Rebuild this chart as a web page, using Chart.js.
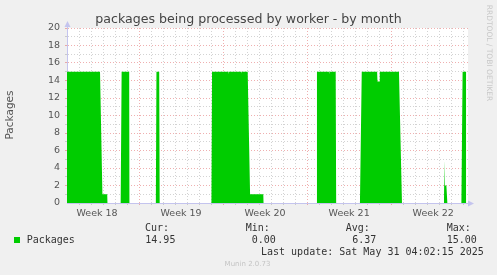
<!DOCTYPE html>
<html>
<head>
<meta charset="utf-8">
<script src="https://cdn.jsdelivr.net/npm/chart.js@4/dist/chart.umd.min.js"></script>
<style>
  html, body { margin: 0; padding: 0; background: #f0f0f0; }
  canvas { display: block; }
</style>
</head>
<body>
<canvas id="worker_chart" width="497" height="275"></canvas>
<script>
// x = days since the left edge of the graph (Tuesday of week 18), y = packages
const dayOffsets = [
  0, 2.75, 2.95, 3.35, 3.37,
  4.47, 4.55, 5.18, 5.2,
  7.4, 7.45, 7.68, 7.72,
  12.03, 12.08, 13.4, 13.42, 13.44, 14.54, 14.56, 14.58, 15.05, 15.25, 16.35, 16.37,
  20.78, 20.82, 21.81, 21.83, 21.85, 22.38, 22.42,
  24.4, 24.55, 25.83, 25.86, 26.0, 26.05, 27.65, 27.9,
  31.4, 31.43, 31.47, 31.6, 31.68,
  32.85, 32.95, 33.25
];
const packages = [
  15, 15, 1, 1, 0,
  0, 15, 15, 0,
  0, 15, 15, 0,
  0, 15, 15, 14.8, 15, 15, 14.8, 15, 15, 1, 1, 0,
  0, 15, 15, 14.8, 15, 15, 0,
  0, 15, 15, 13.9, 13.9, 15, 15, 0,
  0, 4.9, 2, 2, 0,
  0, 15, 15
];

const weekLabels = ['Week 18', 'Week 19', 'Week 20', 'Week 21', 'Week 22'];
const weekCenters = [2.5, 9.5, 16.5, 23.5, 30.5];
const weekStarts = [6, 13, 20, 27];
const rangeDays = 33.4;

const chartTitle = 'packages being processed by worker - by month';
const seriesName = 'Packages';
const statNames = ['Cur:', 'Min:', 'Avg:', 'Max:'];
const statValues = ['14.95', '0.00', '6.37', '15.00'];
const lastUpdate = 'Last update: Sat May 31 04:02:15 2025';

const GREEN = '#00cc00';
const AXIS = '#c4c4ee';
const MAJOR = 'rgba(225, 110, 110, 0.55)';
const MINOR = 'rgba(150, 150, 150, 0.42)';

const points = dayOffsets.map((d, i) => ({ x: d, y: packages[i] }));

const halfDays = [];
for (let i = 0; i <= Math.floor(rangeDays * 2); i++) halfDays.push(i / 2);

const muninDecor = {
  id: 'muninDecor',
  beforeDraw(chart) {
    const { ctx, chartArea: a } = chart;
    ctx.save();
    ctx.fillStyle = '#f0f0f0';
    ctx.fillRect(0, 0, chart.width, chart.height);
    ctx.fillStyle = '#ffffff';
    ctx.fillRect(a.left, a.top, a.right - a.left, a.bottom - a.top);
    ctx.restore();
  },
  afterDraw(chart) {
    const { ctx, chartArea: a } = chart;
    ctx.save();

    // axis arrows
    ctx.strokeStyle = AXIS;
    ctx.fillStyle = AXIS;
    ctx.lineWidth = 1;
    ctx.beginPath();
    ctx.moveTo(a.left + 0.5, a.top);
    ctx.lineTo(a.left + 0.5, a.top - 5);
    ctx.moveTo(a.right, a.bottom + 0.5);
    ctx.lineTo(a.right + 3, a.bottom + 0.5);
    ctx.stroke();
    ctx.beginPath();
    ctx.moveTo(a.left + 0.5, a.top - 7);
    ctx.lineTo(a.left - 2.5, a.top - 1);
    ctx.lineTo(a.left + 3.5, a.top - 1);
    ctx.closePath();
    ctx.fill();
    ctx.beginPath();
    ctx.moveTo(a.right + 6, a.bottom + 0.5);
    ctx.lineTo(a.right, a.bottom - 2.5);
    ctx.lineTo(a.right, a.bottom + 3.5);
    ctx.closePath();
    ctx.fill();

    // title
    ctx.fillStyle = '#444';
    ctx.textBaseline = 'middle';
    ctx.textAlign = 'center';
    ctx.font = '12.6px "DejaVu Sans"';
    ctx.fillText(chartTitle, 248.5, 20);

    // y axis label
    ctx.save();
    ctx.translate(10.5, 115);
    ctx.rotate(-Math.PI / 2);
    ctx.fillStyle = '#555';
    ctx.font = '10.5px "DejaVu Sans"';
    ctx.fillText(seriesName, 0, 0);
    ctx.restore();

    // vertical credit
    ctx.save();
    ctx.translate(488.5, 53);
    ctx.rotate(Math.PI / 2);
    ctx.fillStyle = '#c8c8c8';
    ctx.font = '7.5px "DejaVu Sans"';
    ctx.fillText('RRDTOOL / TOBI OETIKER', 0, 0);
    ctx.restore();

    // legend
    ctx.fillStyle = GREEN;
    ctx.fillRect(14, 237, 6, 6);
    ctx.fillStyle = '#333';
    ctx.textAlign = 'left';
    ctx.font = '10px "DejaVu Sans Mono"';
    ctx.fillText(seriesName, 26.7, 240);
    const nameX = [145, 245.7, 345.7, 446.7];
    const valueX = [145.3, 251.7, 352.3, 446.7];
    statNames.forEach((s, i) => {
      ctx.fillText(s, nameX[i], 228);
      ctx.fillText(statValues[i], valueX[i], 240);
    });
    ctx.fillText(lastUpdate, 261, 252);

    ctx.textAlign = 'center';
    ctx.fillStyle = '#c4c4c4';
    ctx.font = '7px "DejaVu Sans"';
    ctx.fillText('Munin 2.0.73', 247.5, 264);

    ctx.restore();
  }
};

const chartContext = document.getElementById('worker_chart').getContext('2d');
const chart = new Chart(chartContext, {
  type: 'line',
  data: {
    datasets: [
      {
        label: seriesName,
        data: points,
        borderColor: GREEN,
        backgroundColor: GREEN,
        borderWidth: 0,
        pointRadius: 0,
        tension: 0,
        fill: 'origin',
      },
    ],
  },
  options: {
    responsive: false,
    animation: false,
    events: [],
    layout: { padding: { left: 0, top: 28, right: 29, bottom: 0 } },
    plugins: {
      legend: { display: false },
      tooltip: { enabled: false },
    },
    scales: {
      x: {
        type: 'linear',
        min: 0,
        max: rangeDays,
        afterBuildTicks: (scale) => { scale.ticks = halfDays.map((v) => ({ value: v })); },
        afterFit: (scale) => { scale.height = 72; },
        border: { color: AXIS, dash: [1, 2] },
        grid: {
          color: (ctx) => {
            const v = ctx.tick ? ctx.tick.value : -1;
            if (v === 0 || !Number.isInteger(v)) return 'rgba(0,0,0,0)';
            return weekStarts.includes(v) ? MAJOR : MINOR;
          },
          tickLength: 2,
        },
        ticks: {
          autoSkip: false,
          maxRotation: 0,
          minRotation: 0,
          padding: 3,
          color: '#555',
          font: { family: 'DejaVu Sans', size: 9.5 },
          callback: (value) => {
            const i = weekCenters.indexOf(value);
            return i >= 0 ? weekLabels[i] : '';
          },
        },
      },
      y: {
        min: 0,
        max: 20,
        afterFit: (scale) => { scale.width = 67; },
        border: { color: AXIS, dash: [1, 2] },
        grid: {
          color: (ctx) => {
            const v = ctx.tick ? ctx.tick.value : -1;
            if (v === 0) return 'rgba(0,0,0,0)';
            return v % 2 === 0 ? MAJOR : MINOR;
          },
          tickLength: 2,
        },
        ticks: {
          stepSize: 1,
          autoSkip: false,
          padding: 5,
          color: '#555',
          font: { family: 'DejaVu Sans', size: 9.5 },
          callback: (value) => (value % 2 === 0 ? value : ''),
        },
      },
    },
  },
  plugins: [muninDecor],
});
</script>
</body>
</html>
